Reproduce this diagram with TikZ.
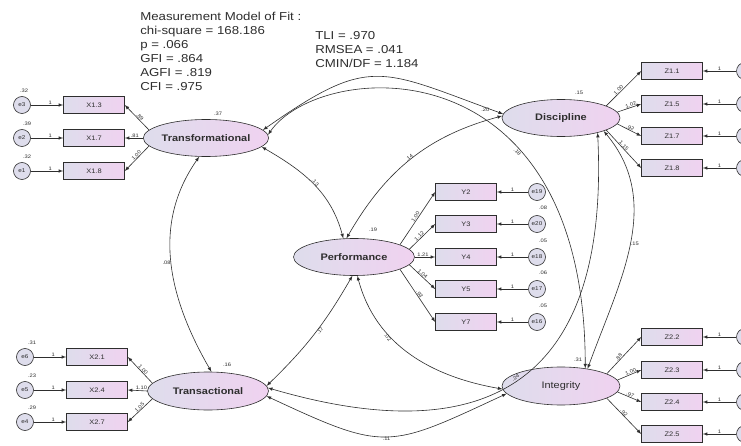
\documentclass[tikz,border=0pt]{standalone}
\usepackage{fontspec}
\setmainfont{Liberation Sans}[FakeStretch=1.15]
\usetikzlibrary{shapes.geometric}
\definecolor{boxl}{HTML}{DEDDEC}
\definecolor{boxr}{HTML}{F0D2F0}
\definecolor{ink}{HTML}{2E2E2E}

\begin{document}
\begin{tikzpicture}[ink,x=1pt,y=1pt,line width=0.6pt,
  latent/.style={draw,ellipse,minimum width=121pt,minimum height=37pt,inner sep=0pt,
    left color=boxl,right color=boxr,font=\fontsize{9.5}{10}\selectfont\bfseries},
  obs/.style={draw,rectangle,minimum width=61pt,minimum height=17pt,inner sep=0pt,
    left color=boxl,right color=boxr,font=\fontsize{6.5}{7}\selectfont},
  err/.style={draw,circle,minimum size=17pt,inner sep=0pt,fill=boxl,font=\fontsize{5.5}{6}\selectfont},
  lbl/.style={font=\fontsize{5}{6}\selectfont,inner sep=0.5pt},
  fitbox/.style={align=left,anchor=north west,inner sep=0pt,font=\fontsize{11.5}{14}\selectfont}]
  \path[fill=white] (0,0) rectangle (741,-446);
  \useasboundingbox (0,0) rectangle (741,-446);

  \node[fitbox] (Fit1) at (140,-12) {Measurement Model of Fit :\\chi-square = 168.186\\p = .066\\GFI = .864\\AGFI = .819\\CFI = .975};
  \node[fitbox] (Fit2) at (315,-31) {TLI = .970\\RMSEA = .041\\CMIN/DF = 1.184};

  \node[latent] (Tf) at (206,-138) {Transformational};
  \node[latent,minimum width=118pt] (Di) at (561,-118) {Discipline};
  \node[latent] (Pe) at (354,-257) {Performance};
  \node[latent,minimum height=38pt] (Ts) at (208,-391) {Transactional};
  \node[latent,minimum width=118pt,minimum height=38pt,font=\fontsize{9.5}{10}\selectfont] (In) at (561,-386) {Integrity};

  \node[lbl] (vTf) at ([shift={(12pt,5pt)}]Tf.north) {.37};
  \node[lbl] (vDi) at ([shift={(18pt,6pt)}]Di.north) {.15};
  \node[lbl] (vPe) at ([shift={(19pt,8pt)}]Pe.north) {.19};
  \node[lbl] (vTs) at ([shift={(19pt,7pt)}]Ts.north) {.16};
  \node[lbl] (vIn) at ([shift={(17pt,7pt)}]In.north) {.31};

  \node[obs] (X13) at (94,-105) {X1.3};
  \node[obs] (X17) at (94,-138) {X1.7};
  \node[obs] (X18) at (94,-171) {X1.8};
  \node[err] (E3) at (22,-105) {e3};
  \node[err] (E2) at (22,-138) {e2};
  \node[err] (E1) at (22,-171) {e1};
  \node[lbl] (vE3) at ([shift={(2pt,14pt)}]E3) {.32};
  \node[lbl] (vE2) at ([shift={(5pt,14pt)}]E2) {.39};
  \node[lbl] (vE1) at ([shift={(5pt,14pt)}]E1) {.32};

  \node[obs] (X21) at (97,-357) {X2.1};
  \node[obs] (X24) at (97,-390) {X2.4};
  \node[obs] (X27) at (97,-422) {X2.7};
  \node[err] (E6) at (25,-357) {e6};
  \node[err] (E5) at (25,-390) {e5};
  \node[err] (E4) at (25,-422) {e4};
  \node[lbl] (vE6) at ([shift={(7pt,14pt)}]E6) {.31};
  \node[lbl] (vE5) at ([shift={(7pt,14pt)}]E5) {.23};
  \node[lbl] (vE4) at ([shift={(7pt,14pt)}]E4) {.29};

  \node[obs] (Y2) at (466,-192) {Y2};
  \node[obs] (Y3) at (466,-224) {Y3};
  \node[obs] (Y4) at (466,-257) {Y4};
  \node[obs] (Y5) at (466,-289) {Y5};
  \node[obs] (Y7) at (466,-322) {Y7};
  \node[err] (E19) at (537,-192) {e19};
  \node[err] (E20) at (537,-224) {e20};
  \node[err] (E18) at (537,-257) {e18};
  \node[err] (E17) at (537,-289) {e17};
  \node[err] (E16) at (537,-322) {e16};
  \node[lbl] (vE20) at ([shift={(6pt,16pt)}]E20) {.08};
  \node[lbl] (vE18) at ([shift={(6pt,16pt)}]E18) {.05};
  \node[lbl] (vE17) at ([shift={(6pt,16pt)}]E17) {.06};
  \node[lbl] (vE16) at ([shift={(6pt,16pt)}]E16) {.05};

  \node[obs] (Z11) at (672,-71) {Z1.1};
  \node[obs] (Z15) at (672,-104) {Z1.5};
  \node[obs] (Z17) at (672,-136) {Z1.7};
  \node[obs] (Z18) at (672,-168) {Z1.8};
  \node[err] (E7) at (745,-71) {};
  \node[err] (E8) at (745,-104) {};
  \node[err] (E9) at (745,-136) {};
  \node[err] (E10) at (745,-168) {};

  \node[obs] (Z22) at (672,-337) {Z2.2};
  \node[obs] (Z23) at (672,-370) {Z2.3};
  \node[obs] (Z24) at (672,-402) {Z2.4};
  \node[obs] (Z25) at (672,-434) {Z2.5};
  \node[err] (E11) at (745,-337) {};
  \node[err] (E12) at (745,-370) {};
  \node[err] (E13) at (745,-402) {};
  \node[err] (E14) at (745,-434) {};

  \draw[-latex] (E3) -- (X13) node[pos=0.6,above,lbl] {1};
  \draw[-latex] (E2) -- (X17) node[pos=0.6,above,lbl] {1};
  \draw[-latex] (E1) -- (X18) node[pos=0.6,above,lbl] {1};
  \draw[-latex] (E6) -- (X21) node[pos=0.6,above,lbl] {1};
  \draw[-latex] (E5) -- (X24) node[pos=0.6,above,lbl] {1};
  \draw[-latex] (E4) -- (X27) node[pos=0.6,above,lbl] {1};
  \draw[-latex] (E19) -- (Y2) node[midway,above,lbl] {1};
  \draw[-latex] (E20) -- (Y3) node[midway,above,lbl] {1};
  \draw[-latex] (E18) -- (Y4) node[midway,above,lbl] {1};
  \draw[-latex] (E17) -- (Y5) node[midway,above,lbl] {1};
  \draw[-latex] (E16) -- (Y7) node[midway,above,lbl] {1};
  \draw[-latex] (E7) -- (Z11) node[midway,above,lbl] {1};
  \draw[-latex] (E8) -- (Z15) node[midway,above,lbl] {1};
  \draw[-latex] (E9) -- (Z17) node[midway,above,lbl] {1};
  \draw[-latex] (E10) -- (Z18) node[midway,above,lbl] {1};
  \draw[-latex] (E11) -- (Z22) node[midway,above,lbl] {1};
  \draw[-latex] (E12) -- (Z23) node[midway,above,lbl] {1};
  \draw[-latex] (E13) -- (Z24) node[midway,above,lbl] {1};
  \draw[-latex] (E14) -- (Z25) node[midway,above,lbl] {1};

  \draw[-latex] (Tf.172) -- (X13.east) node[pos=0.45,sloped,above,lbl] {.89};
  \draw[-latex] (Tf.west) -- (X17.east) node[pos=0.45,above,lbl] {.81};
  \draw[-latex] (Tf.188) -- (X18.east) node[pos=0.45,sloped,above,lbl] {1.00};
  \draw[-latex] (Ts.172) -- (X21.east) node[pos=0.45,sloped,above,lbl] {1.00};
  \draw[-latex] (Ts.west) -- (X24.east) node[pos=0.3,above,lbl] {1.10};
  \draw[-latex] (Ts.188) -- (X27.east) node[pos=0.45,sloped,above,lbl] {1.05};
  \draw[-latex] (Pe.15) -- (Y2.west) node[pos=0.5,sloped,above,lbl] {1.00};
  \draw[-latex] (Pe.8) -- (Y3.west) node[pos=0.45,sloped,above,lbl] {1.12};
  \draw[-latex] (Pe.east) -- (Y4.west) node[pos=0.4,above,lbl] {1.21};
  \draw[-latex] (Pe.-8) -- (Y5.west) node[pos=0.45,sloped,above,lbl] {1.04};
  \draw[-latex] (Pe.-15) -- (Y7.west) node[pos=0.5,sloped,above,lbl] {.93};
  \draw[-latex] (Di.15) -- (Z11.west) node[pos=0.4,sloped,above,lbl] {1.00};
  \draw[-latex] (Di.6) -- (Z15.west) node[pos=0.6,sloped,above,lbl] {1.02};
  \draw[-latex] (Di.-6) -- (Z17.west) node[pos=0.5,sloped,above,lbl] {.92};
  \draw[-latex] (Di.-15) -- (Z18.west) node[pos=0.45,sloped,above,lbl] {1.15};
  \draw[-latex] (In.15) -- (Z22.west) node[pos=0.4,sloped,above,lbl] {.88};
  \draw[-latex] (In.6) -- (Z23.west) node[pos=0.6,sloped,above,lbl] {1.00};
  \draw[-latex] (In.-6) -- (Z24.west) node[pos=0.5,sloped,above,lbl] {.97};
  \draw[-latex] (In.-15) -- (Z25.west) node[pos=0.45,sloped,above,lbl] {.92};

  \draw[latex-latex] (Tf.8) to[out=35,in=160,looseness=1.4] node[pos=0.95,below,lbl] {.20} (Di.176);
  \draw[latex-latex] (Tf.3) .. controls (320,-60) and (585,-40) .. (In.36) node[pos=0.68,sloped,below,lbl] {.18};
  \draw[latex-latex] (Tf.-9) to[out=-30,in=105] node[midway,sloped,above,lbl] {.13} (Pe.120);
  \draw[latex-latex] (Tf.-110) to[out=235,in=120] node[midway,left,lbl] {.08} (Ts.80);
  \draw[latex-latex] (Di.178) to[out=195,in=60] node[midway,sloped,above,lbl] {.14} (Pe.112);
  \draw[latex-latex] (Di.-17) to[out=-50,in=70] node[midway,right,lbl] {.15} (In.33);
  \draw[latex-latex] (Di.-22) .. controls (610,-390) and (480,-450) .. (Ts.3) node[pos=0.5,sloped,above,lbl] {.24};
  \draw[latex-latex] (Ts.5) to[bend right=8] node[pos=0.55,sloped,below,lbl] {.17} (Pe.-95);
  \draw[latex-latex] (Pe.-80) to[out=-75,in=170] node[pos=0.35,sloped,below,lbl] {.02} (In.183);
  \draw[latex-latex] (Ts.-5) to[out=-25,in=-155,looseness=1.4] node[midway,below,lbl] {.11} (In.188);
\end{tikzpicture}
\end{document}
